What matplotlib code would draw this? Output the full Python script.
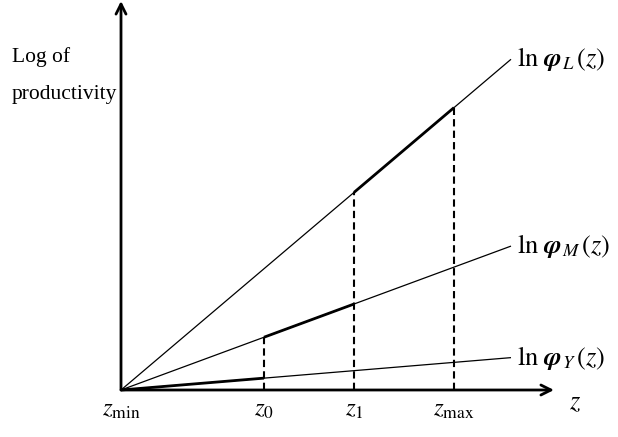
import numpy as np
import matplotlib
matplotlib.use("Agg")
import matplotlib.pyplot as plt

plt.rcParams['font.family'] = ['Liberation Serif', 'DejaVu Serif']
plt.rcParams['mathtext.fontset'] = 'stix'

# positions on the z axis (z_min at 0)
z_min = 0.0
z_0 = 1.43
z_1 = 2.33
z_max = 3.33
z_end = 3.90

# slopes of the three log-productivity lines
slopes = {'L': 0.848, 'M': 0.369, 'Y': 0.083}
line_labels = {'L': r'$\ln\,\mathbfit{\varphi}_L\,(z)$',
               'M': r'$\ln\,\mathbfit{\varphi}_M\,(z)$',
               'Y': r'$\ln\,\mathbfit{\varphi}_Y\,(z)$'}
# bold part of each line
bold_ranges = {'L': (z_1, z_max), 'M': (z_0, z_1), 'Y': (z_min, z_0)}
# dashed verticals: z position and the line they reach
dashed = [(z_0, 'M'), (z_1, 'L'), (z_max, 'L')]
tick_pos = [z_min, z_0, z_1, z_max]
tick_labels = [r'$z_{\min}$', r'$z_0$', r'$z_1$', r'$z_{\max}$']


def ln_phi(z, k):
    return slopes[k] * z


fig = plt.figure(figsize=(6.18, 4.37), dpi=100)
ax = fig.add_axes([0, 0, 1, 1])
ax.set_xlim(-1.21, 4.97)
ax.set_ylim(-0.47, 3.90)
ax.axis('off')

# axes with arrows
ax.annotate('', xy=(4.33, 0), xytext=(0, 0),
            arrowprops=dict(arrowstyle='->', lw=2, color='black',
                            mutation_scale=18, shrinkA=0, shrinkB=0))
ax.annotate('', xy=(0, 3.89), xytext=(0, 0),
            arrowprops=dict(arrowstyle='->', lw=2, color='black',
                            mutation_scale=18, shrinkA=0, shrinkB=0))

for k in ['L', 'M', 'Y']:
    zz = np.array([z_min, z_end])
    ax.plot(zz, ln_phi(zz, k), color='black', lw=0.9, solid_capstyle='butt')
    a, b = bold_ranges[k]
    zb = np.array([a, b])
    ax.plot(zb, ln_phi(zb, k), color='black', lw=2.0, solid_capstyle='butt')
    ax.text(z_end + 0.06, ln_phi(z_end, k), line_labels[k], fontsize=19,
            ha='left', va='center')

for zd, k in dashed:
    ax.plot([zd, zd], [0, ln_phi(zd, k)], color='black', lw=1.5,
            linestyle=(0, (3.5, 2)))

for zp, lab in zip(tick_pos, tick_labels):
    ax.text(zp, -0.2, lab, fontsize=18, ha='center', va='center')

ax.text(4.54, -0.13, r'$z$', fontsize=19, ha='center', va='center')

ax.text(-1.09, 3.33, 'Log of', fontsize=15.5, ha='left', va='center')
ax.text(-1.09, 2.95, 'productivity', fontsize=15.5, ha='left', va='center')

fig.savefig('out.png', dpi=100)
